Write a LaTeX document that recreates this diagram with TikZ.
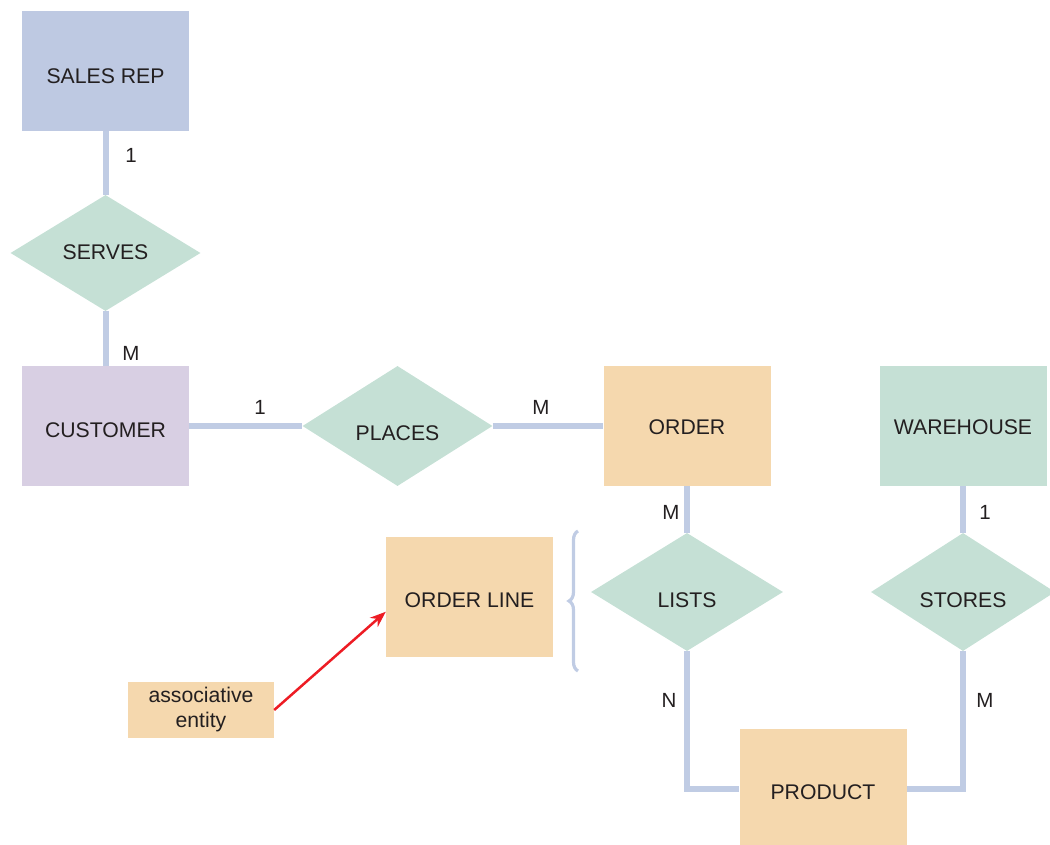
\documentclass[tikz,border=0pt]{standalone}
\usepackage{fontspec}
\setmainfont{Liberation Sans}
\usetikzlibrary{shapes.geometric,arrows.meta,decorations.pathreplacing,calc}
\definecolor{repblue}{RGB}{190,201,226}
\definecolor{custlilac}{RGB}{216,207,227}
\definecolor{relgreen}{RGB}{197,224,213}
\definecolor{entorange}{RGB}{245,216,174}
\definecolor{linkblue}{RGB}{192,204,228}
\definecolor{arrred}{RGB}{237,28,36}
\definecolor{ink}{RGB}{35,31,32}
\tikzset{
  ent/.style={rectangle, minimum width=167pt, minimum height=120pt, inner sep=0pt, text=ink, font=\fontsize{21.2}{25}\selectfont, text depth=0pt},
  rel/.style={diamond, fill=relgreen, minimum width=190pt, minimum height=116pt, inner sep=0pt, text=ink, font=\fontsize{21.2}{25}\selectfont, text depth=0pt},
  link/.style={draw=linkblue, line width=6pt},
  card/.style={text=ink, font=\fontsize{20.5}{24}\selectfont, inner sep=0pt}
}
\begin{document}
\begin{tikzpicture}[x=1pt,y=-1pt]
\useasboundingbox (0,0) rectangle (1050,845);
% entities
\node[ent, fill=repblue, text height=25pt] (salesrep) at (105.5,71) {SALES REP};
\node[ent, fill=custlilac, text height=23pt] (customer) at (105.5,426) {CUSTOMER};
\node[ent, fill=entorange, text height=17pt] (order) at (687,426) {ORDER};
\node[ent, fill=relgreen, text height=17pt] (warehouse) at (963,426) {WAREHOUSE};
\node[ent, fill=entorange, text height=21pt] (orderline) at (469.5,597) {ORDER LINE};
\node[ent, fill=entorange, text height=21pt] (product) at (823,789) {PRODUCT};
% relationships
\node[rel, text height=13pt] (serves) at (105.5,253) {SERVES};
\node[rel, minimum width=190pt, minimum height=120pt, text height=28pt] (places) at (397.5,426) {PLACES};
\node[rel, minimum width=192pt, minimum height=118pt, text height=31pt] (lists) at (687,592) {LISTS};
\node[rel, minimum width=184pt, minimum height=118pt, text height=31pt] (stores) at (963,592) {STORES};
% annotation
\node[rectangle, fill=entorange, minimum width=146pt, minimum height=56pt, inner sep=0pt, align=center, text=ink, font=\fontsize{21.2}{25}\selectfont] (assoc) at (201,710) {associative\\entity};
% connectors
\draw[link] (salesrep.south) -- (serves.north);
\draw[link] (serves.south) -- (customer.north);
\draw[link] (customer.east) -- (places.west);
\draw[link] (places.east) -- (order.west);
\draw[link] (order.south) -- (lists.north);
\draw[link] (warehouse.south) -- (stores.north);
\draw[link] (lists.south) |- (product.west);
\draw[link] (stores.south) |- (product.east);
% brace
\coordinate (bracetop) at (578,531);
\coordinate (bracebot) at (578,671);
\draw[draw=linkblue, line width=3.2pt, decoration={brace, amplitude=9pt}, decorate] (bracebot) -- (bracetop);
% arrow
\draw[draw=arrred, line width=2.5pt, -{Stealth[length=16pt,width=12pt]}] (assoc.east) -- (orderline.190);
% cardinalities
\node[card] (c1) at (131,155) {1};
\node[card] (c2) at (131,353) {M};
\node[card] (c3) at (260,407) {1};
\node[card] (c4) at (541,407) {M};
\node[card] (c5) at (671,512) {M};
\node[card] (c6) at (985,512) {1};
\node[card] (c7) at (669,700) {N};
\node[card] (c8) at (985,700) {M};
\end{tikzpicture}
\end{document}
